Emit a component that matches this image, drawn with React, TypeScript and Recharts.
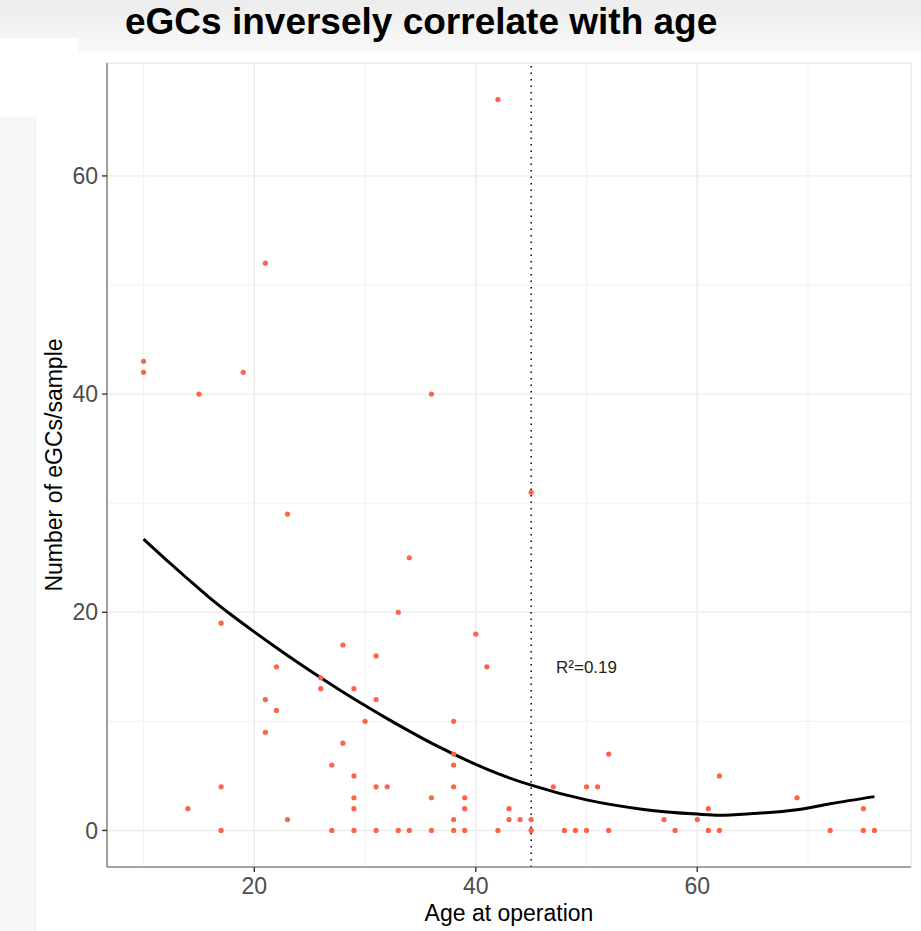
import React from 'react'
import { ComposedChart, Scatter, Line, XAxis, YAxis, CartesianGrid, ReferenceLine, ReferenceDot } from 'recharts'

// age at operation / eGC count per sample
const ages = [
  10, 10, 14, 15, 17, 17, 17, 19, 21, 21, 21, 22, 22, 23, 23, 26, 26, 27, 27, 28, 28,
  29, 29, 29, 29, 29, 30, 31, 31, 31, 31, 32, 33, 33, 34, 34, 36, 36, 36,
  38, 38, 38, 38, 38, 38, 39, 39, 39, 40, 41, 42, 42, 43, 43, 44, 45, 45, 45,
  47, 48, 49, 50, 50, 51, 52, 52, 57, 58, 60, 61, 61, 62, 62, 69, 72, 75, 75, 76,
]
const counts = [
  43, 42, 2, 40, 19, 4, 0, 42, 52, 12, 9, 15, 11, 29, 1, 14, 13, 6, 0, 17, 8,
  13, 5, 3, 2, 0, 10, 16, 12, 4, 0, 4, 20, 0, 25, 0, 40, 3, 0,
  10, 7, 6, 4, 1, 0, 3, 2, 0, 18, 15, 67, 0, 2, 1, 1, 31, 1, 0,
  4, 0, 0, 4, 0, 4, 7, 0, 1, 0, 1, 2, 0, 5, 0, 3, 0, 2, 0, 0,
]

// smoothed fit
const fitAges = [10, 12, 14, 16, 18, 20, 22, 24, 26, 28, 30, 32, 34, 36, 38, 40, 42, 45, 50, 55, 60, 62, 65, 69, 72, 76]
const fitValues = [26.7, 24.85, 23.05, 21.3, 19.7, 18.2, 16.75, 15.35, 14.0, 12.7, 11.45, 10.25, 9.1, 8.0, 7.0, 6.05, 5.2, 4.15, 2.8, 1.95, 1.5, 1.4, 1.55, 1.9, 2.45, 3.1]

const xTicks = [20, 40, 60]
const yTicks = [0, 20, 40, 60]
const xMinor = [10, 30, 50, 70]
const yMinor = [10, 30, 50]
const cutoffAge = 45

const points = ages.map((a, i) => ({ x: a, y: counts[i] }))
const fit = fitAges.map((a, i) => ({ x: a, fit: fitValues[i] }))

const font = '"Liberation Sans", Arial, Helvetica, sans-serif'
const xDomain = [6.7, 79.3]
const yDomain = [-3.35, 70.35]
const tickStyle = { fill: '#4d4d4d', fontSize: 23, fontFamily: font }
const borderStyle = { stroke: '#8a8a8a', strokeWidth: 1.6 }

export default function App() {
  return (
    <div style={{ position: 'absolute', left: 0, top: 0, width: 921, height: 931, background: '#fff', fontFamily: font }}>
      {/* slide background bits */}
      <div style={{ position: 'absolute', left: 0, top: 0, width: 921, height: 52, background: 'linear-gradient(#ececec, #f9f9f9)' }} />
      <div style={{ position: 'absolute', left: 0, top: 38, width: 78, height: 14, background: '#fff' }} />
      <div style={{ position: 'absolute', left: 0, top: 117, width: 35, height: 814, background: '#f8f8f8', borderRight: '1px solid #ececec' }} />
      <div style={{ position: 'absolute', left: 125, top: 3, fontSize: 37, lineHeight: '37px', fontWeight: 'bold', color: '#000', whiteSpace: 'nowrap' }}>
        eGCs inversely correlate with age
      </div>

      <div style={{ position: 'absolute', left: 0, top: 0 }}>
        <ComposedChart width={921} height={931} margin={{ top: 63, right: 10, bottom: 0, left: 0 }}>
          <XAxis xAxisId="minor" type="number" dataKey="x" domain={xDomain} ticks={xMinor} allowDataOverflow hide />
          <YAxis yAxisId="minor" type="number" domain={yDomain} ticks={yMinor} allowDataOverflow hide />
          <CartesianGrid xAxisId="minor" yAxisId="minor" stroke="#efefef" strokeWidth={0.9} />
          <CartesianGrid stroke="#ebebeb" strokeWidth={1.4} />

          <XAxis
            type="number"
            dataKey="x"
            domain={xDomain}
            ticks={xTicks}
            allowDataOverflow
            height={64}
            tick={tickStyle}
            tickSize={5}
            tickMargin={6}
            tickLine={{ stroke: '#333', strokeWidth: 1.4 }}
            axisLine={borderStyle}
            label={{ value: 'Age at operation', position: 'insideBottom', offset: 10, fill: '#000', fontSize: 23, fontFamily: font }}
          />
          <YAxis
            type="number"
            domain={yDomain}
            ticks={yTicks}
            allowDataOverflow
            width={107}
            tick={tickStyle}
            tickSize={5}
            tickMargin={4}
            tickLine={{ stroke: '#333', strokeWidth: 1.4 }}
            axisLine={borderStyle}
            label={{ value: 'Number of eGCs/sample', angle: -90, position: 'center', fill: '#000', fontSize: 23, fontFamily: font }}
          />
          <XAxis xAxisId="top" orientation="top" type="number" domain={xDomain} allowDataOverflow height={0} tick={false} tickLine={false} axisLine={borderStyle} />
          <YAxis yAxisId="right" orientation="right" type="number" domain={yDomain} allowDataOverflow width={0} tick={false} tickLine={false} axisLine={borderStyle} />

          <ReferenceLine x={cutoffAge} stroke="#000" strokeWidth={1.5} strokeDasharray="1.5 5" />

          <Scatter data={points} dataKey="y" fill="#ff6347" shape={(p: any) => <circle cx={p.cx} cy={p.cy} r={2.6} fill="#ff6347" />} isAnimationActive={false} />
          <Line data={fit} dataKey="fit" type="monotone" stroke="#000" strokeWidth={3} dot={false} activeDot={false} isAnimationActive={false} />

          <ReferenceDot x={50} y={15} r={0} fill="none" stroke="none" label={{ value: 'R²=0.19', position: 'center', fill: '#222', fontSize: 17, fontFamily: font }} />
        </ComposedChart>
      </div>
    </div>
  )
}
